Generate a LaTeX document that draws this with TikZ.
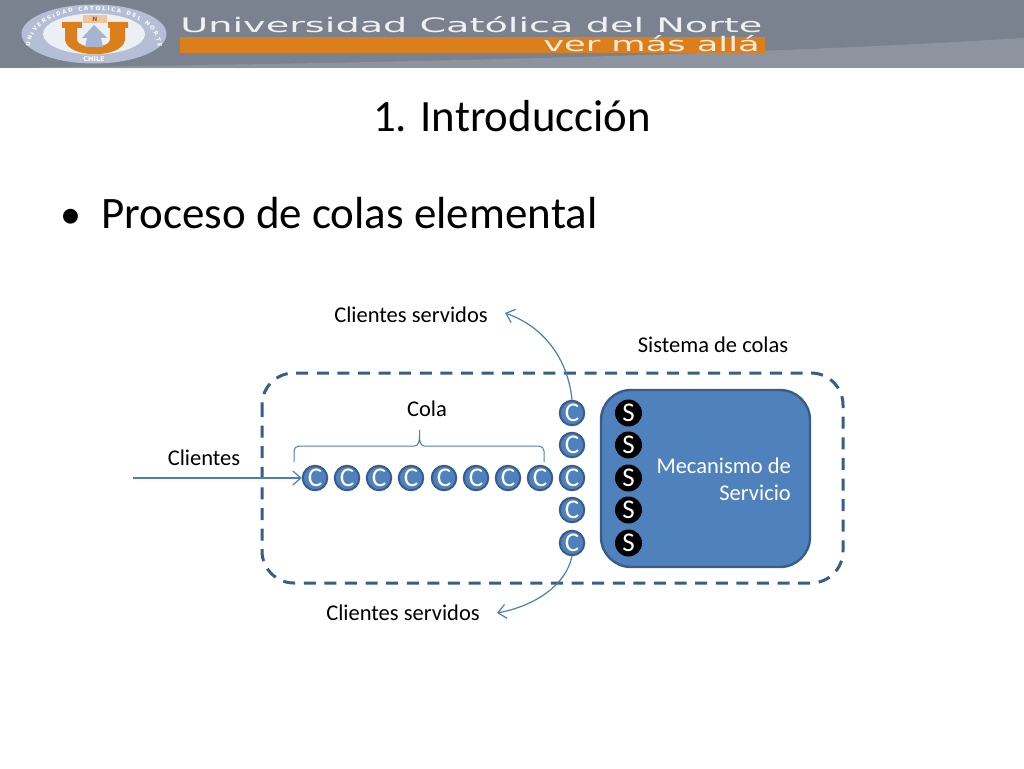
\documentclass[tikz,border=0pt]{standalone}
\usepackage{fontspec}
\setmainfont{Carlito}
\newfontfamily\headfont{DejaVu Sans}
\usetikzlibrary{arrows.meta,calc,decorations.text}
\definecolor{acc}{HTML}{4F81BD}
\definecolor{accd}{HTML}{385D8A}
\definecolor{headg}{HTML}{7A828F}
\definecolor{headl}{HTML}{A5ABB4}
\definecolor{orng}{HTML}{DB7F1C}
\definecolor{lnk}{HTML}{4A7EBB}
\definecolor{seal}{HTML}{B4BED4}
\tikzset{
  cust/.style={circle,draw=accd,line width=2pt,fill=acc,minimum size=24.5pt,inner sep=0pt,text=white,font=\fontsize{27}{27}\selectfont},
  serv/.style={circle,fill=black,minimum size=27pt,inner sep=0pt,text=white,font=\fontsize{27}{27}\selectfont},
  lab/.style={inner sep=0pt,text=black,font=\fontsize{22.5}{27}\selectfont},
  flow/.style={draw=lnk,line width=1.2pt,-{Straight Barb[length=8pt,width=14pt,line width=1.2pt]}},
  headtext/.style={inner sep=0pt,font=\headfont\fontsize{20}{22}\selectfont,transform shape},
}
\begin{document}
\begin{tikzpicture}[x=1pt,y=-1pt]
\useasboundingbox (0,0) rectangle (1024,768);
\fill[white] (0,0) rectangle (1024,768);
% header
\fill[headg] (0,0) rectangle (1024,68);
\fill[headl,opacity=.45] (0,68) .. controls (300,64) and (700,58) .. (1024,38) -- (1024,68) -- cycle;
\fill[orng] (180,37) rectangle (765,53);
% seal
\fill[seal] (94,34) ellipse [x radius=72.5,y radius=29.5];
\fill[white!75!seal] (94,34) ellipse [x radius=51,y radius=20.5];
\path[decorate,decoration={text along path,text align=fit to path,
  text={|\headfont\bfseries\fontsize{5.5}{6}\selectfont\color{white}|UNIVERSIDAD CATOLICA DEL NORTE}}]
  (30,47) .. controls (32,-2) and (156,-2) .. (158,47);
\fill[orng] (62,22) -- (82,22) -- (82,28) -- (77,28) -- (77,40) .. controls (78,49) and (109,49) .. (110,40) -- (110,28) -- (108,28) -- (108,22) -- (128,22) -- (128,28) -- (125,28) -- (125,40) .. controls (122,59) and (68,59) .. (65,40) -- (65,28) -- (62,28) -- cycle;
\fill[orng!45!white] (83,15) rectangle (107,23);
\fill[seal!85!acc] (94,25) -- (107,38) -- (101,38) -- (103,47) -- (85,47) -- (87,38) -- (82,38) -- cycle;
\node[inner sep=0pt,text=orng!70!black,font=\headfont\bfseries\fontsize{6}{6}\selectfont] (sealn) at (95,19) {N};
\node[inner sep=0pt,text=white,font=\headfont\bfseries\fontsize{6.5}{7}\selectfont] (sealc) at (94,59) {CHILE};
\begin{scope}[xscale=1.91]
\node[headtext,text=white!88!headg,anchor=base west] (uni) at (94.24,32.5) {Universidad Católica del Norte};
\end{scope}
\begin{scope}[xscale=1.76]
\node[headtext,text=white!85!orng,anchor=base east] (ver) at (431.8,51.5) {ver más allá};
\end{scope}
% titles
\node[inner sep=0pt,anchor=base,font=\fontsize{44.8}{50}\selectfont,text=black] (title) at (512,131) {1. Introducción};
\node[inner sep=0pt,anchor=base west,font=\fontsize{42}{50}\selectfont,text=black] (bul) at (60,228) {•};
\node[inner sep=0pt,anchor=base west,font=\fontsize{45}{50}\selectfont,text=black] (sub) at (101,228) {Proceso de colas elemental};
% system boundary
\draw[accd,line width=3pt,dash pattern=on 12pt off 8.6pt,rounded corners=32pt] (262,373) rectangle (843,583);
\node[rectangle,draw=accd,line width=2.4pt,fill=acc,rounded corners=30pt,minimum width=209pt,minimum height=177pt,inner sep=0pt] (mech) at (705.5,478.5) {};
\node[inner sep=0pt,anchor=east,align=right,text=white,font=\fontsize{22.5}{27}\selectfont] (mechl) at (791,479) {Mecanismo de\\Servicio};
% customers
\foreach \n/\x in {1/315,2/347,3/379,4/411,5/444,6/476,7/508,8/540}
  \node[cust] (q\n) at (\x,478) {C};
\foreach \n/\y in {1/413,2/445,3/478,4/510,5/543}{
  \node[cust] (c\n) at (572,\y) {C};
  \node[serv] (s\n) at (628.5,\y) {S};
}
% labels
\node[lab] (lcola) at (427,409) {Cola};
\node[lab] (lcli) at (204,457.5) {Clientes};
\node[lab] (ltop) at (411,315) {Clientes servidos};
\node[lab] (lbot) at (403,613) {Clientes servidos};
\node[lab] (lsis) at (713,345) {Sistema de colas};
% free ends
\coordinate (start) at (133,478);
\coordinate (topend) at (505,313);
\coordinate (botend) at (497,613);
\coordinate (bl) at (294,462);
\coordinate (br) at (544,462);
\coordinate (bt) at (419.5,430);
% connectors
\draw[flow] (start) -- (q1.west);
\draw[flow] (c1.north) .. controls (568,360) and (545,327) .. (topend);
\draw[flow] (c5.south) .. controls (566,585) and (535,606) .. (botend);
% brace
\draw[lnk,line width=1pt] (bl) -- ($(bl)+(0,-11)$) to[out=90,in=180] ($(bl)+(5,-16)$) -- ($(bt)+(-5,16)$) to[out=0,in=-90] ($(bt)+(0,5)$) -- (bt) -- ($(bt)+(0,5)$) to[out=-90,in=180] ($(bt)+(5,16)$) -- ($(br)+(-5,-16)$) to[out=0,in=90] ($(br)+(0,-11)$) -- (br);
\end{tikzpicture}
\end{document}
